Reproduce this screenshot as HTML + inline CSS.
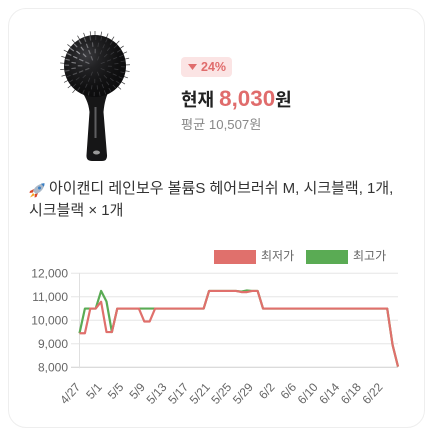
<!DOCTYPE html>
<html lang="ko">
<head>
<meta charset="utf-8">
<title>상품 가격 차트</title>
<style>
html,body{margin:0;padding:0;background:#fff;}
body{width:433px;height:429px;position:relative;overflow:hidden;font-family:"Liberation Sans","Noto Sans CJK KR",sans-serif;}
#card{position:absolute;left:8px;top:8px;width:417px;height:420px;box-sizing:border-box;border:1px solid #eee;border-radius:18px;background:#fff;}
#brush{position:absolute;left:50px;top:25px;}
#badge{position:absolute;left:181px;top:57px;width:51px;height:20px;background:#fbe4e4;border-radius:4px;color:#e06c6c;font-size:12.5px;font-weight:bold;line-height:20px;white-space:nowrap;}
#badge svg{position:absolute;left:7px;top:7px;}
#badge span{position:absolute;left:20px;top:0;}
#now{position:absolute;left:181px;top:87px;font-size:18px;font-weight:bold;color:#222;line-height:24px;white-space:nowrap;}
#now b{color:#e06c6c;font-size:22.4px;}
#avg{position:absolute;left:181px;top:116px;font-size:13.2px;color:#888;line-height:18px;white-space:nowrap;}
#rocket{position:absolute;left:29px;top:183px;}
#title{position:absolute;left:29px;top:178px;width:390px;font-size:15px;color:#333;line-height:22px;}
#title .ind{display:inline-block;width:20px;}
#chart{position:absolute;left:0;top:240px;}
</style>
</head>
<body>
<div id="card"></div>

<svg id="brush" width="90" height="140" viewBox="50 25 90 140">
  <defs>
    <radialGradient id="hg" cx="0.36" cy="0.33" r="0.72">
      <stop offset="0" stop-color="#3c3c40"/>
      <stop offset="0.3" stop-color="#222224"/>
      <stop offset="0.7" stop-color="#111112"/>
      <stop offset="1" stop-color="#0b0b0c"/>
    </radialGradient>
  </defs>
  <g id="bristles" stroke="#3a3a3c" stroke-width="0.7"></g>
  <path d="M80 88 C85 97 88.500 102 89.500 112 L86.500 155 Q86 161 92 161 L102 161 Q107.500 161 107 155 L103.500 112 C104.500 102 106 97 110 88 Z" fill="#161617"/>
  <circle cx="95" cy="66" r="31" fill="url(#hg)"/>
  <g id="tufts" stroke-linecap="round"></g>
  <rect x="94.500" y="107" width="2" height="31" fill="#77777a" opacity="0.75"/>
  <ellipse cx="96.500" cy="152.500" rx="3.500" ry="2" fill="#9a9a9a"/>
</svg>

<div id="badge">
  <svg width="10" height="6" viewBox="0 0 10 6"><path d="M0 0H9L4.500 6Z" fill="#e06c6c"/></svg>
  <span>24%</span>
</div>
<div id="now">현재 <b>8,030</b>원</div>
<div id="avg">평균 10,507원</div>

<svg id="rocket" width="16" height="15" viewBox="0 0 16 15">
  <path d="M5 6 L1 8 L0.500 10 L4 9.500Z" fill="#d9482b"/>
  <path d="M9 10 L7.500 14 L5.500 14.500 L6 11Z" fill="#d9482b"/>
  <path d="M4 8 C6 3.500 10 0.800 15.500 0.300 C15.200 5.500 12 9.500 7 11Z" fill="#aab8c8"/>
  <path d="M12 0.800 C13.500 0.400 15 0.300 15.500 0.300 C15.500 1.500 15.200 2.800 14.800 3.800Z" fill="#3a7fc4"/>
  <circle cx="10.500" cy="5" r="1.500" fill="#3a7fc4"/>
  <path d="M4 10 L1 14.500 L6 12Z" fill="#f5a623"/>
</svg>
<div id="title"><span class="ind"></span>아이캔디 레인보우 볼륨S 헤어브러쉬 M, 시크블랙, 1개,<br>시크블랙 × 1개</div>

<svg id="chart" width="433" height="189" viewBox="0 240 433 189"></svg>

<script>
const dateLabels = ["4/27","5/1","5/5","5/9","5/13","5/17","5/21","5/25","5/29","6/2","6/6","6/10","6/14","6/18","6/22"];
const yTicks = [8000,9000,10000,11000,12000];
const yTickLabels = ["8,000","9,000","10,000","11,000","12,000"];
const lowPrices = [9450,9450,10500,10500,10790,9500,9500,10500,10500,10500,10500,10500,9950,9950,10500,10500,10500,10500,10500,10500,10500,10500,10500,10500,11250,11250,11250,11250,11250,11250,11200,11200,11250,11250,10500,10500,10500,10500,10500,10500,10500,10500,10500,10500,10500,10500,10500,10500,10500,10500,10500,10500,10500,10500,10500,10500,10500,10500,8950,8030];
const highPrices = [9450,10500,10500,10500,11250,10800,9500,10500,10500,10500,10500,10500,10500,10500,10500,10500,10500,10500,10500,10500,10500,10500,10500,10500,11250,11250,11250,11250,11250,11250,11220,11270,11250,11250,10500,10500,10500,10500,10500,10500,10500,10500,10500,10500,10500,10500,10500,10500,10500,10500,10500,10500,10500,10500,10500,10500,10500,10500,8950,8030];
const legendLabels = ["최저가","최고가"];

const NS = "http://www.w3.org/2000/svg";
const chart = document.getElementById("chart");
const plot = {left:79.5,right:398,top:273.3,bottom:367.3};
const tickEvery = 4;
const xScale = i => plot.left + i*(plot.right-plot.left)/(lowPrices.length-1);
const yScale = v => plot.bottom - (v-8000)*(plot.bottom-plot.top)/4000;
function mk(tag, attrs, parent){
  const el = document.createElementNS(NS, tag);
  for(const k in attrs) el.setAttribute(k, attrs[k]);
  (parent||chart).appendChild(el);
  return el;
}

yTicks.forEach((v,i)=>{
  const y = yScale(v);
  const line = mk("line",{x1:71,x2:plot.right,y1:y,y2:y,stroke:i===0?"#cfcfcf":"#e5e5e5","stroke-width":1});
  
  
  const t = mk("text",{x:68,y:y+4.2,"text-anchor":"end","font-size":12,fill:"#666"});
  t.textContent = yTickLabels[i];
  
  
});

const yAxis = mk("line",{x1:plot.left,x2:plot.left,y1:plot.top,y2:plot.bottom+1,stroke:"#e0e0e0","stroke-width":1});



dateLabels.forEach((d,i)=>{
  const ax = xScale(i*tickEvery)+1.5;
  const ay = 387.5;
  const t = mk("text",{x:ax,y:ay,"text-anchor":"end","font-size":12,fill:"#666",transform:"rotate(-48 "+ax+" "+ay+")"});
  t.textContent = d;
  
  
});

function pathFor(values){
  return values.map((v,i)=>(i?"L":"M")+xScale(i).toFixed(2)+" "+yScale(v).toFixed(2)).join(" ");
}
const highLine = mk("path",{d:pathFor(highPrices),fill:"none",stroke:"#5aab54","stroke-width":2.2,"stroke-linejoin":"round"});


const lowLine = mk("path",{d:pathFor(lowPrices),fill:"none",stroke:"#e0706c","stroke-width":2.2,"stroke-linejoin":"round"});



const legendColors = ["#e0706c","#5aab54"];
const legendX = [214,306];
legendLabels.forEach((label,i)=>{
  const box = mk("rect",{x:legendX[i],y:250,width:42,height:14,fill:legendColors[i]});
  
  
  const t = mk("text",{x:legendX[i]+47,y:260,"font-size":12,fill:"#666"});
  t.textContent = label;
  
  
});

const bristles = document.getElementById("bristles");
for(let a=0;a<360;a+=11){
  if(a>140 && a<220) continue;
  const r = a*Math.PI/180, s = Math.sin(r), c = -Math.cos(r);
  const b = document.createElementNS(NS,"line");
  b.setAttribute("x1",95+s*28);
  b.setAttribute("y1",66+c*28);
  b.setAttribute("x2",95+s*35);
  b.setAttribute("y2",66+c*35);
  bristles.appendChild(b);
}
const tufts = document.getElementById("tufts");
for(let ring=1;ring<=4;ring++){
  const n = ring*8;
  for(let k=0;k<n;k++){
    const r = k/n*Math.PI*2+ring*0.4, d = ring*6.6;
    const px = 95+Math.cos(r)*d, py = 66+Math.sin(r)*d;
    const hd = Math.hypot(px-78,py-54);
    const glow = Math.max(0,1-hd/22);
    const l = document.createElementNS(NS,"line");
    l.setAttribute("x1",px);
    l.setAttribute("y1",py);
    l.setAttribute("x2",px+Math.cos(r)*3.5);
    l.setAttribute("y2",py+Math.sin(r)*3.5);
    l.setAttribute("stroke",glow>0.1?"#b5b5ba":"#4a4a4e");
    l.setAttribute("stroke-width",glow>0.1?1.2:0.8);
    l.setAttribute("opacity",glow>0.1?(0.25+glow*0.6):0.7);
    tufts.appendChild(l);
  }
}
</script>
</body>
</html>
